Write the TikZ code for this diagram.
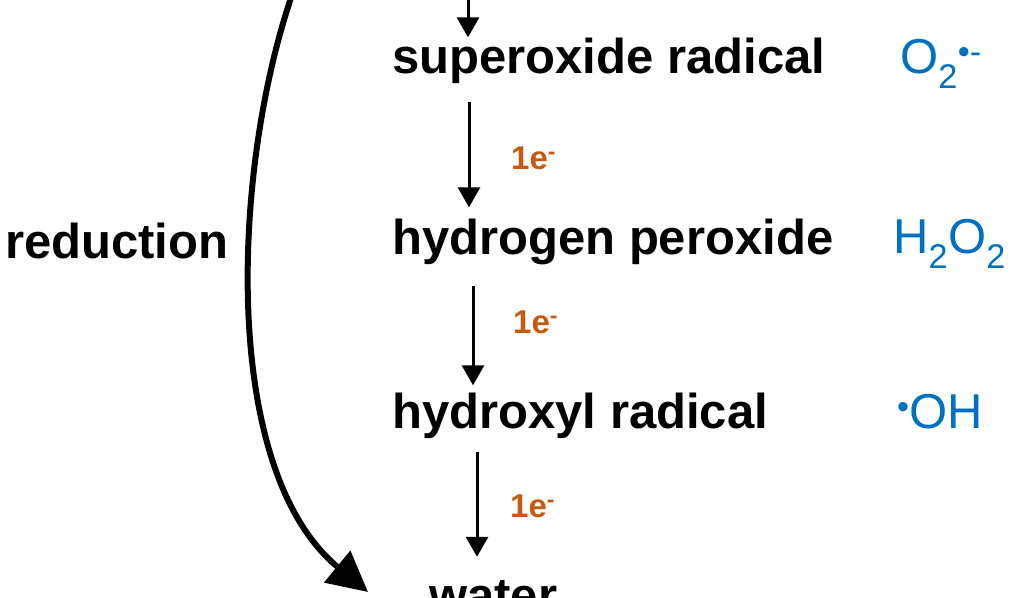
\documentclass[tikz,border=0pt]{standalone}
\usepackage{fontspec}
\setmainfont{Liberation Sans}
\usepackage{tikz}
\usetikzlibrary{
  arrows.meta,
  calc,
  positioning,
}
\tikzstyle{flow} = [
  -{Triangle[length=20pt,width=22pt]},
  line width=3pt,
  black,
]
\tikzstyle{reduce} = [
  -{Triangle[length=40pt,width=40pt]},
  line width=6pt,
  black,
]
\tikzstyle{species} = [
  anchor=base west,
  inner sep=0pt,
  font=\fontsize{49}{55}\selectfont\bfseries,
]
\definecolor{formblue}{RGB}{0, 112, 192}
\definecolor{elorange}{RGB}{197, 90, 17}

\begin{document}
\begin{tikzpicture}[x=1pt,y=1pt]
        \useasboundingbox (0,0) rectangle (1024,-597);

        % species, one under the other
        \node[species]    (sup)    at (392,-73)    {superoxide radical};
        \node[species,below=181pt of sup.base west,anchor=base west]    (hyd)    {hydrogen peroxide};
        \node[species,below=174pt of hyd.base west,anchor=base west]    (hox)    {hydroxyl radical};
        \node[species,below=184pt of hox.base west,anchor=base west,xshift=37pt]    (wat)    {water};
        \node[species]    (red)    at (5,-258)    {reduction};

        % formulas
        \node[anchor=base west,inner sep=0pt,text=formblue,font=\fontsize{49}{55}\selectfont]    (fsup)    at (900,-73)    {O\textsubscript{2}\textsuperscript{\textbullet-}};
        \node[anchor=base west,inner sep=0pt,text=formblue,font=\fontsize{49}{55}\selectfont]    (fhyd)    at (893,-253)    {H\textsubscript{2}O\textsubscript{2}};
        \node[anchor=base west,inner sep=0pt,text=formblue,font=\fontsize{49}{55}\selectfont]    (fhox)    at (897,-428)    {\textsuperscript{\textbullet}OH};

        % electrons
        \node[anchor=base west,inner sep=0pt,text=elorange,font=\fontsize{33}{37}\selectfont\bfseries]    (e0)    at (516,2)    {1e\textsuperscript{-}};
        \node[anchor=base west,inner sep=0pt,text=elorange,font=\fontsize{33}{37}\selectfont\bfseries]    (e1)    at (511,-169)    {1e\textsuperscript{-}};
        \node[anchor=base west,inner sep=0pt,text=elorange,font=\fontsize{33}{37}\selectfont\bfseries]    (e2)    at (513,-333)    {1e\textsuperscript{-}};
        \node[anchor=base west,inner sep=0pt,text=elorange,font=\fontsize{33}{37}\selectfont\bfseries]    (e3)    at (510,-517)    {1e\textsuperscript{-}};

        \coordinate (top)    at (468,10);
        \coordinate (oxy)    at (292,5);
        \coordinate (redtip)    at (368,-592);

        \draw[flow]    (top) -- ([xshift=76pt]sup.north west);
        \draw[flow,shorten <=19pt,shorten >=11pt]    ([xshift=77pt]sup.south west) -- ([xshift=77pt]hyd.north west);
        \draw[flow,shorten <=21pt,shorten >=7pt]    ([xshift=81pt]hyd.south west) -- ([xshift=81pt]hox.north west);
        \draw[flow,shorten <=14pt,shorten >=23pt]    ([xshift=85pt]hox.south west) -- ([xshift=85pt]hox.south west |- wat.north);

        \draw[reduce]    (oxy) .. controls (232,-170) and (220,-470) .. (redtip);
    \end{tikzpicture}
\end{document}
